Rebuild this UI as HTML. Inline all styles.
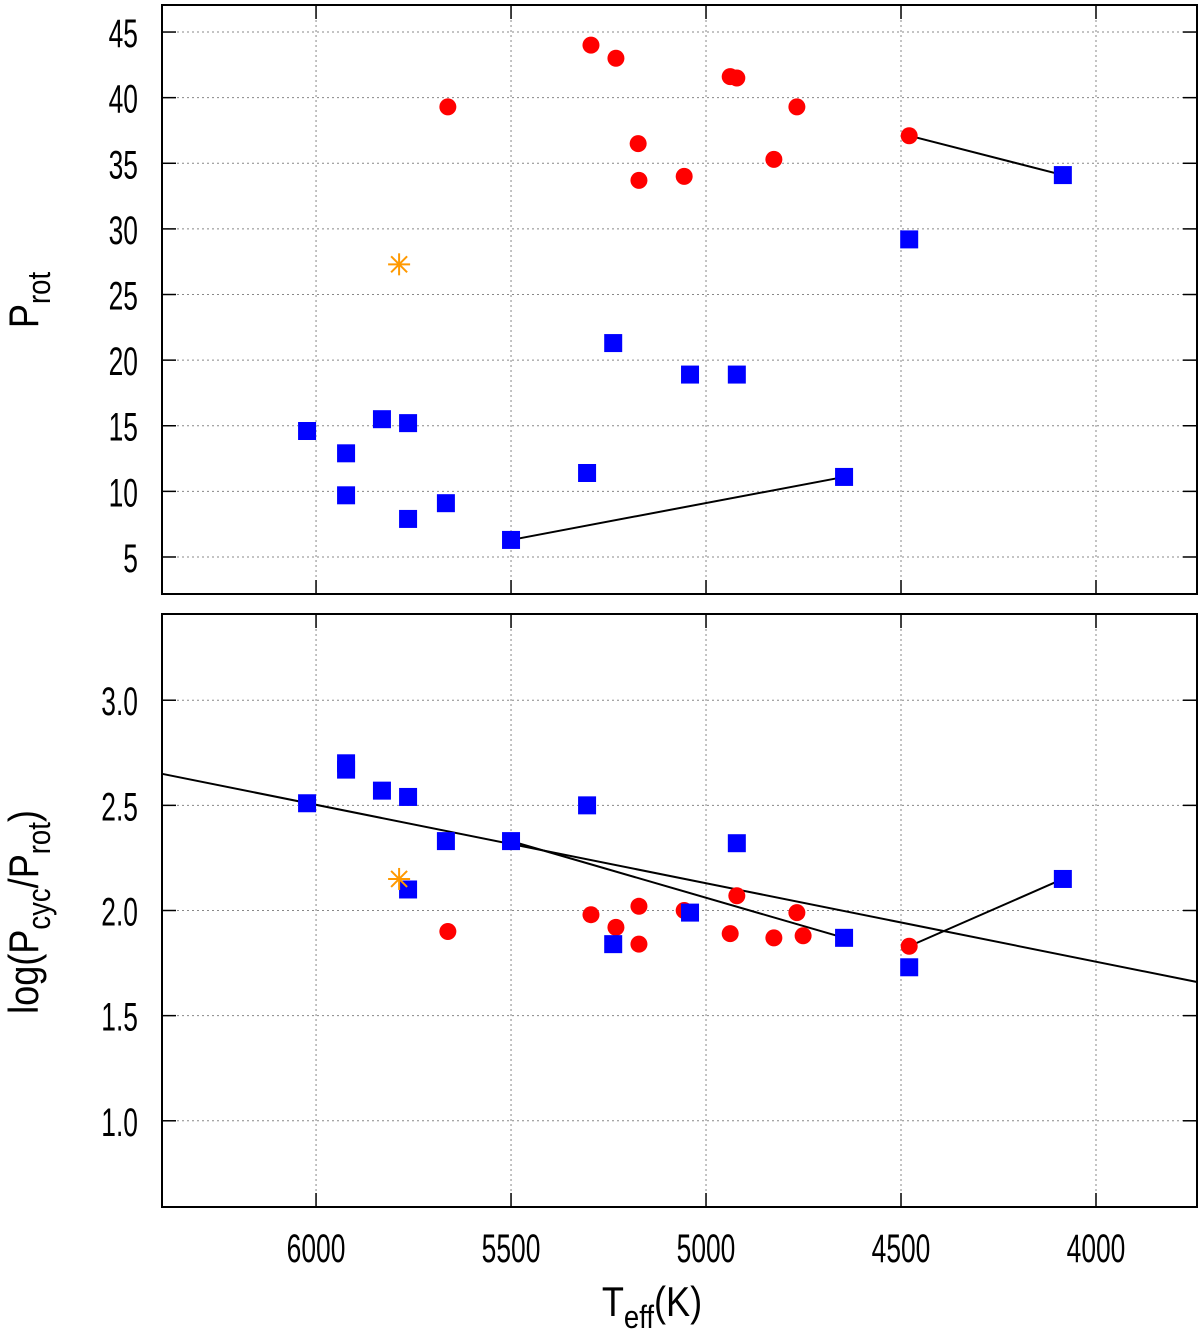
<!DOCTYPE html>
<html><head><meta charset="utf-8"><style>
html,body{margin:0;padding:0;background:#fff}
svg{display:block}
text{font-family:"Liberation Sans",sans-serif;fill:#000}
</style></head><body>
<svg id="chart" width="1200" height="1333" viewBox="0 0 1200 1333" xmlns="http://www.w3.org/2000/svg"></svg>
<script>
// ---- data ----
const xTicks = [6000, 5500, 5000, 4500, 4000];
const topTicks = [5, 10, 15, 20, 25, 30, 35, 40, 45];
const botTicks = [1.0, 1.5, 2.0, 2.5, 3.0];
const botTickLabels = ["1.0", "1.5", "2.0", "2.5", "3.0"];

const redT = [5662, 5295, 5231, 5174, 5172, 5056, 4938, 4921, 4767, 4826, 4479];
const redProt = [39.3, 44.0, 43.0, 36.5, 33.7, 34.0, 41.6, 41.5, 39.3, 35.3, 37.1];
const blueT = [4085, 4479, 5238, 5041, 4921, 6023, 5923, 5831, 5764, 5923, 5764, 5667, 5305, 5500, 4646];
const blueProt = [34.1, 29.2, 21.3, 18.9, 18.9, 14.6, 12.9, 15.5, 15.2, 9.7, 7.9, 9.1, 11.4, 6.3, 11.1];
const starT = [5787];
const starProt = [27.3];
const starLog = [2.15];

const blueLogT = [6023, 5923, 5923, 5831, 5764, 5667, 5764, 5305, 5500, 4921, 5041, 5238, 4646, 4479, 4085];
const blueLog = [2.51, 2.70, 2.67, 2.57, 2.54, 2.33, 2.10, 2.50, 2.33, 2.32, 1.99, 1.84, 1.87, 1.73, 2.15];
const redLogT = [5662, 5295, 5231, 5172, 5172, 5056, 4938, 4921, 4826, 4767, 4751, 4479];
const redLog = [1.90, 1.98, 1.92, 2.02, 1.84, 2.00, 1.89, 2.07, 1.87, 1.99, 1.88, 1.83];

const topLinksT = [[5500, 4646], [4479, 4085]];
const topLinksP = [[6.3, 11.1], [37.1, 34.1]];
const botLinksT = [[5500, 4646], [4479, 4085]];
const botLinksV = [[2.33, 1.87], [1.83, 2.15]];
const fitT = [6395, 3741];
const fitV = [2.65, 1.66];

// ---- axes ----
const L = 162, R = 1197;
const xMin = 6395, xMax = 3741;
const X = t => L + (xMin - t) / (xMin - xMax) * (R - L);
const T1 = 5, B1 = 594, yTopMax = 47.06, yTopMin = 2.18;
const Y1 = v => T1 + (yTopMax - v) / (yTopMax - yTopMin) * (B1 - T1);
const T2 = 614, B2 = 1207, yBotMax = 3.41, yBotMin = 0.59;
const Y2 = v => T2 + (yBotMax - v) / (yBotMax - yBotMin) * (B2 - T2);

const FS = 40, SX = 0.66;

const svg = document.getElementById('chart');
const NS = 'http://www.w3.org/2000/svg';
function mk(tag, attrs, parent) {
  const e = document.createElementNS(NS, tag);
  for (const k in attrs) e.setAttribute(k, attrs[k]);
  (parent || svg).appendChild(e);
  return e;
}

function panel(top, bot, Y, ticks, labels, name) {
  const g = mk('g', {});
  
  
  xTicks.forEach(t => {
    const gl = mk('line', {x1: X(t), x2: X(t), y1: top, y2: bot, stroke: '#888', 'stroke-width': 1, 'stroke-dasharray': '2,3'}, g);
    
    
    mk('line', {x1: X(t), x2: X(t), y1: bot, y2: bot - 14, stroke: '#000', 'stroke-width': 1.5}, g);
    mk('line', {x1: X(t), x2: X(t), y1: top, y2: top + 14, stroke: '#000', 'stroke-width': 1.5}, g);
  });
  ticks.forEach((v, i) => {
    const gl = mk('line', {x1: L, x2: R, y1: Y(v), y2: Y(v), stroke: '#888', 'stroke-width': 1, 'stroke-dasharray': '2,3'}, g);
    
    
    mk('line', {x1: L, x2: L + 14, y1: Y(v), y2: Y(v), stroke: '#000', 'stroke-width': 1.5}, g);
    mk('line', {x1: R, x2: R - 14, y1: Y(v), y2: Y(v), stroke: '#000', 'stroke-width': 1.5}, g);
    const tx = mk('text', {x: 138, y: Y(v) + 15, 'text-anchor': 'end', 'font-size': FS, transform: `translate(138 0) scale(${SX} 1) translate(-138 0)`}, g);
    tx.textContent = labels[i];
    
    
  });
  const fr = mk('rect', {x: L, y: top, width: R - L, height: bot - top, fill: 'none', stroke: '#000', 'stroke-width': 2}, g);
  
  
}
panel(T1, B1, Y1, topTicks, topTicks.map(String), 'top-panel');
panel(T2, B2, Y2, botTicks, botTickLabels, 'bottom-panel');

xTicks.forEach(t => {
  const tx = mk('text', {x: X(t), y: 1262, 'text-anchor': 'middle', 'font-size': FS, transform: `translate(${X(t)} 0) scale(${SX} 1) translate(${-X(t)} 0)`});
  tx.textContent = t;
  
  
});

function line(x1, y1, x2, y2, name) {
  const l = mk('line', {x1, y1, x2, y2, stroke: '#000', 'stroke-width': 2});
  
  
}
topLinksT.forEach((p, i) => line(X(p[0]), Y1(topLinksP[i][0]), X(p[1]), Y1(topLinksP[i][1]), 'connector-line'));
botLinksT.forEach((p, i) => line(X(p[0]), Y2(botLinksV[i][0]), X(p[1]), Y2(botLinksV[i][1]), 'connector-line'));
line(X(fitT[0]), Y2(fitV[0]), X(fitT[1]), Y2(fitV[1]), 'fit-line');

function circle(t, v, Y) {
  const c = mk('circle', {cx: X(t), cy: Y(v), r: 8.5, fill: '#f00'});
  
  
}
function square(t, v, Y) {
  const r = mk('rect', {x: X(t) - 9, y: Y(v) - 9, width: 18, height: 18, fill: '#00f'});
  
  
}
function star(t, v, Y) {
  const g = mk('g', {stroke: '#f90', 'stroke-width': 2});
  
  
  const cx = X(t), cy = Y(v), s = 11;
  mk('line', {x1: cx - s, x2: cx + s, y1: cy, y2: cy}, g);
  mk('line', {x1: cx, x2: cx, y1: cy - s, y2: cy + s}, g);
  mk('line', {x1: cx - 8, x2: cx + 8, y1: cy - 8, y2: cy + 8}, g);
  mk('line', {x1: cx - 8, x2: cx + 8, y1: cy + 8, y2: cy - 8}, g);
}
redT.forEach((t, i) => circle(t, redProt[i], Y1));
blueT.forEach((t, i) => square(t, blueProt[i], Y1));
starT.forEach((t, i) => star(t, starProt[i], Y1));
redLogT.forEach((t, i) => circle(t, redLog[i], Y2));
blueLogT.forEach((t, i) => square(t, blueLog[i], Y2));
starT.forEach((t, i) => star(t, starLog[i], Y2));
</script>
<div style="position:absolute;left:0;top:0;width:1200px;height:1333px;pointer-events:none">
  <svg width="1200" height="1333" style="position:absolute;left:0;top:0">
    <text x="652" y="1316" text-anchor="middle" font-size="42" font-family="Liberation Sans, sans-serif" transform="translate(652 0) scale(0.86 1) translate(-652 0)">T<tspan font-size="32" dy="12">eff</tspan><tspan dy="-12">(K)</tspan></text>
    <text transform="translate(38 300) rotate(-90) scale(0.86 1)" text-anchor="middle" font-size="42" font-family="Liberation Sans, sans-serif">P<tspan font-size="32" dy="12">rot</tspan></text>
    <text transform="translate(38 912) rotate(-90) scale(0.86 1)" text-anchor="middle" font-size="42" font-family="Liberation Sans, sans-serif">log(P<tspan font-size="32" dy="12">cyc</tspan><tspan dy="-12">/P</tspan><tspan font-size="32" dy="12">rot</tspan><tspan dy="-12">)</tspan></text>
  </svg>
</div>
</body></html>
